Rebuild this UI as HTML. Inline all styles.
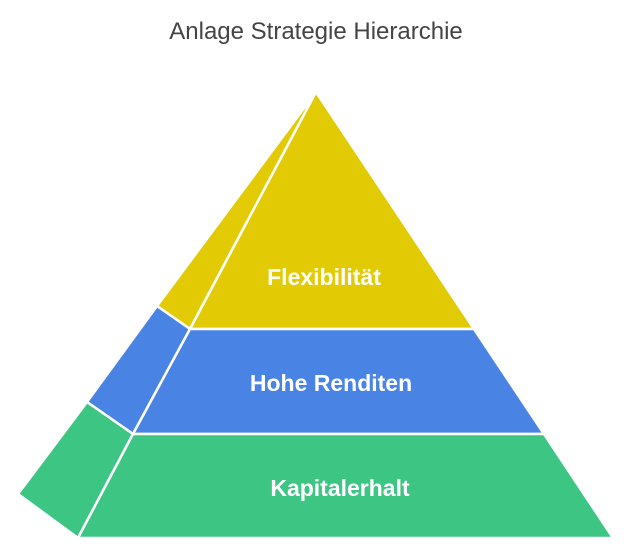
<!DOCTYPE html>
<html><head><meta charset="utf-8"><style>
html,body{margin:0;padding:0;background:#fff;}
svg{display:block;}
text{font-family:"Liberation Sans",sans-serif;}
</style></head><body>
<svg width="633" height="557" viewBox="0 0 633 557" xmlns="http://www.w3.org/2000/svg">
<text x="316" y="39" text-anchor="middle" font-size="24" fill="#444">Anlage Strategie Hierarchie</text>
<g stroke="#fff" stroke-width="2.5" stroke-linejoin="round">
<polygon points="316,92 190,329 157,306" fill="#E2CB05"/>
<polygon points="157,306 190,329 133,434 87,402" fill="#4983E4"/>
<polygon points="87,402 133,434 78,538 18,494" fill="#3CC583"/>
<polygon points="316,92 474,329 190,329" fill="#E2CB05"/>
<polygon points="190,329 474,329 544,434 133,434" fill="#4983E4"/>
<polygon points="133,434 544,434 613,538 78,538" fill="#3CC583"/>
</g>
<g fill="#fff" font-size="23" text-anchor="middle" font-weight="bold">
<text x="324" y="285">Flexibilität</text>
<text x="331" y="391">Hohe Renditen</text>
<text x="340" y="496">Kapitalerhalt</text>
</g>
</svg>
</body></html>
